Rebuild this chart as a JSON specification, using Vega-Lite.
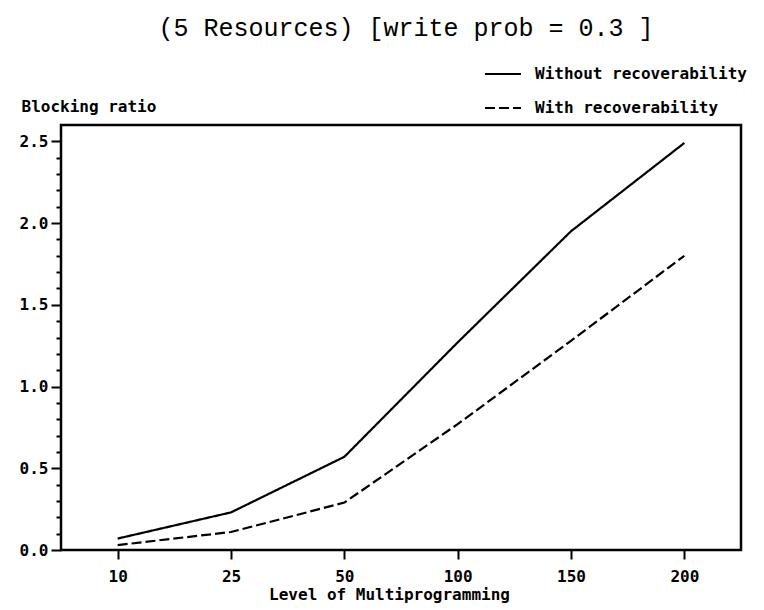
{
  "$schema": "https://vega.github.io/schema/vega-lite/v6.json",
  "width": 680,
  "height": 425,
  "autosize": "none",
  "padding": {"left": 61, "top": 125, "right": 23, "bottom": 60},
  "background": "white",
  "title": {
    "text": "(5 Resources) [write prob = 0.3 ]",
    "font": "Liberation Mono",
    "fontSize": 25,
    "fontWeight": "normal",
    "color": "black",
    "anchor": "middle",
    "frame": "group",
    "baseline": "alphabetic",
    "dx": 5,
    "offset": -6
  },
  "data": {
    "values": [
      {"level": 10, "ratio": 0.07, "series": "Without recoverability"},
      {"level": 25, "ratio": 0.23, "series": "Without recoverability"},
      {"level": 50, "ratio": 0.57, "series": "Without recoverability"},
      {"level": 100, "ratio": 1.27, "series": "Without recoverability"},
      {"level": 150, "ratio": 1.95, "series": "Without recoverability"},
      {"level": 200, "ratio": 2.49, "series": "Without recoverability"},
      {"level": 10, "ratio": 0.03, "series": "With recoverability"},
      {"level": 25, "ratio": 0.11, "series": "With recoverability"},
      {"level": 50, "ratio": 0.29, "series": "With recoverability"},
      {"level": 100, "ratio": 0.77, "series": "With recoverability"},
      {"level": 150, "ratio": 1.28, "series": "With recoverability"},
      {"level": 200, "ratio": 1.80, "series": "With recoverability"}
    ]
  },
  "mark": {"type": "line", "color": "black", "strokeWidth": 2.2},
  "encoding": {
    "x": {
      "field": "level",
      "type": "ordinal",
      "scale": {"type": "point", "padding": 0.5},
      "axis": {
        "title": "Level of Multiprogramming",
        "titleX": 328,
        "titleAlign": "center",
        "labelAngle": 0,
        "domain": false,
        "ticks": true,
        "tickSize": 9,
        "tickWidth": 2,
        "tickColor": "black",
        "labelPadding": 9,
        "labelFont": "DejaVu Sans Mono",
        "labelFontWeight": "bold",
        "labelFontSize": 16,
        "labelColor": "black",
        "titleFont": "DejaVu Sans Mono",
        "titleFontWeight": "bold",
        "titleFontSize": 16,
        "titleColor": "black",
        "titlePadding": 2
      }
    },
    "y": {
      "field": "ratio",
      "type": "quantitative",
      "scale": {"domain": [0, 2.6], "nice": false, "zero": true},
      "axis": {
        "title": "Blocking ratio",
        "titleAngle": 0,
        "titleAlign": "left",
        "titleBaseline": "alphabetic",
        "titleX": -40,
        "titleY": -14,
        "titleFont": "DejaVu Sans Mono",
        "titleFontWeight": "bold",
        "titleFontSize": 16,
        "titleColor": "black",
        "values": [0, 0.1, 0.2, 0.3, 0.4, 0.5, 0.6, 0.7, 0.8, 0.9, 1.0, 1.1, 1.2, 1.3, 1.4, 1.5, 1.6, 1.7, 1.8, 1.9, 2.0, 2.1, 2.2, 2.3, 2.4, 2.5],
        "labelExpr": "abs(round(datum.value*10) % 5) == 0 ? format(datum.value, '.1f') : ''",
        "tickSize": {"condition": {"test": "abs(round(datum.value*10) % 5) == 0", "value": 10}, "value": 5},
        "tickWidth": 2,
        "tickColor": "black",
        "domain": false,
        "grid": false,
        "labelPadding": 3,
        "labelFont": "DejaVu Sans Mono",
        "labelFontWeight": "bold",
        "labelFontSize": 16,
        "labelColor": "black"
      }
    },
    "strokeDash": {
      "field": "series",
      "type": "nominal",
      "scale": {"domain": ["Without recoverability", "With recoverability"], "range": [[1, 0], [10, 4]]},
      "legend": {
        "title": null,
        "orient": "none",
        "legendX": 423,
        "legendY": -70,
        "symbolType": "stroke",
        "symbolSize": 1296,
        "symbolStrokeWidth": 2,
        "symbolStrokeColor": "black",
        "rowPadding": 7,
        "labelLimit": 0,
        "labelFont": "DejaVu Sans Mono",
        "labelFontWeight": "bold",
        "labelFontSize": 16,
        "labelColor": "black",
        "labelOffset": 13
      }
    }
  },
  "config": {
    "view": {"stroke": "black", "strokeWidth": 2.5}
  }
}
